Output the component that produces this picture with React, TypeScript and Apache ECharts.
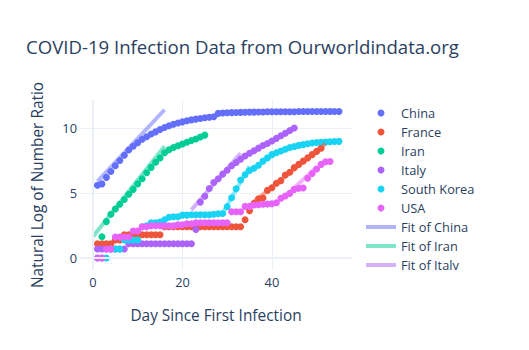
import { useEffect, useRef } from "react";
import * as echarts from "echarts";

// ---------- data ----------
const chinaStart = 1;
const chinaValues = [
  5.6, 5.7, 6.2, 6.65, 7.1, 7.5, 7.9, 8.3, 8.6, 8.87,
  9.13, 9.33, 9.54, 9.7, 9.88, 10.03, 10.17, 10.28, 10.38, 10.47,
  10.55, 10.62, 10.68, 10.73, 10.78, 10.82, 10.86, 11.12, 11.15, 11.17,
  11.18, 11.19, 11.2, 11.21, 11.22, 11.22, 11.23, 11.23, 11.24, 11.24,
  11.24, 11.25, 11.25, 11.25, 11.25, 11.26, 11.26, 11.26, 11.26, 11.26,
  11.27, 11.27, 11.27, 11.27, 11.27,
];

const franceStart = 1;
const franceValues = [
  1.1, 1.1, 1.1, 1.1, 1.39, 1.39,
  1.79, 1.79, 1.79, 1.79, 1.79, 1.79, 1.79, 1.79, 1.79,
  2.4, 2.4, 2.4, 2.4, 2.4, 2.4, 2.4, 2.4, 2.4, 2.4, 2.4, 2.4, 2.4, 2.4, 2.4, 2.4, 2.4, 2.4,
  2.95, 3.64, 4.2, 4.55, 4.62, 5.2, 5.4, 5.75, 5.95, 6.38,
  6.6, 6.95, 7.2, 7.45, 7.7, 7.95, 8.2, 8.45,
];

const iranStart = 2;
const iranValues = [
  1.64, 2.8, 3.36, 3.77, 4.13, 4.5, 4.9, 5.28, 5.7, 6.1,
  6.56, 6.97, 7.36, 7.7, 8.1, 8.32, 8.5, 8.63, 8.77, 8.9,
  9.03, 9.15, 9.3, 9.45,
];

const italyStart = 1;
const italyValues = [
  0.69, 0.69, 0.69, 0.69, 0.69, 0.69, 0.69,
  1.1, 1.1, 1.1, 1.1, 1.1, 1.1, 1.1, 1.1, 1.1, 1.1, 1.1, 1.1, 1.1, 1.1, 1.1,
  2.2, 4.3, 4.75, 5.35, 5.8, 6.1, 6.45, 6.75, 7.1, 7.35,
  7.6, 7.85, 8.05, 8.25, 8.45, 8.65, 8.8, 9.0, 9.2, 9.4,
  9.6, 9.8, 10.0,
];

const koreaStart = 1;
const koreaValues = [
  0, 0, 0, 0.69, 0.69, 0.69, 1.39, 1.39, 1.39, 1.39,
  2.4, 2.48, 2.71, 2.71, 2.77, 2.94, 3.14, 3.18, 3.18, 3.3,
  3.3, 3.33, 3.33, 3.33, 3.33, 3.33, 3.37, 3.4, 3.43,
  3.95, 4.64, 5.32, 6.0, 6.4, 6.73, 6.9, 7.14, 7.45, 7.7,
  7.95, 8.1, 8.23, 8.37, 8.5, 8.58, 8.66, 8.72, 8.78, 8.84,
  8.88, 8.9, 8.92, 8.94, 8.96, 8.97,
];

const usaStart = 1;
const usaValues = [
  0, 0, 0.69, 0.69, 1.61, 1.61, 1.61, 1.61, 2.08, 2.08,
  2.4, 2.4, 2.48, 2.48, 2.48, 2.48, 2.48, 2.48, 2.56, 2.56,
  2.64, 2.64, 2.71, 2.71, 2.71, 2.71, 2.71, 2.71, 2.71, 2.71,
  3.56, 3.56, 3.56,
  3.97, 3.97, 4.08, 4.09, 4.13, 4.15, 4.18, 4.25, 4.6, 4.77,
  4.97, 5.28, 5.36, 5.38, 6.13, 6.5, 6.85, 7.2, 7.4, 7.42,
];

// fitted lines: [start day, end day] and [start value, end value]
const fitChinaDays = [1, 16];
const fitChinaValues = [5.9, 11.4];
const fitIranDays = [0, 16];
const fitIranValues = [1.65, 8.6];
const fitItalyDays = [22, 33];
const fitItalyValues = [3.7, 8.05];
const fitKoreaDays = [29, 35];
const fitKoreaValues = [3.45, 7.05];
const fitFranceDays = [36, 52];
const fitFranceValues = [4.35, 8.8];
const fitUsaDays = [43, 50];
const fitUsaValues = [4.75, 7.0];

const countryNames = ["China", "France", "Iran", "Italy", "South Korea", "USA"];
const countryColors = ["#636efa", "#ef553b", "#00cc96", "#ab63fa", "#19d3f3", "#e763fa"];
const fitColors = [
  "rgba(99,110,250,0.5)",
  "rgba(0,204,150,0.5)",
  "rgba(171,99,250,0.5)",
  "rgba(25,211,243,0.5)",
  "rgba(239,85,59,0.5)",
  "rgba(231,99,250,0.5)",
];
const fitNames = ["Fit of China", "Fit of Iran", "Fit of Italy", "Fit of South Korea", "Fit of France", "Fit of USA"];

const FONT = '"Open Sans", verdana, arial, sans-serif';
const TEXT = "#2a3f5f";
const GRID = "#ebf0f8";

const toPoints = (start: number, values: number[]) => values.map((v, i) => [start + i, v]);
const toLine = (days: number[], values: number[]) => days.map((d, i) => [d, values[i]]);

export default function App() {
  const ref = useRef<HTMLDivElement>(null);

  useEffect(() => {
    document.body.style.margin = "0";
    if (!ref.current) return;
    const chart = echarts.init(ref.current, undefined, { renderer: "svg" });

    const countryData = [
      toPoints(chinaStart, chinaValues),
      toPoints(franceStart, franceValues),
      toPoints(iranStart, iranValues),
      toPoints(italyStart, italyValues),
      toPoints(koreaStart, koreaValues),
      toPoints(usaStart, usaValues),
    ];
    const fitData = [
      toLine(fitChinaDays, fitChinaValues),
      toLine(fitIranDays, fitIranValues),
      toLine(fitItalyDays, fitItalyValues),
      toLine(fitKoreaDays, fitKoreaValues),
      toLine(fitFranceDays, fitFranceValues),
      toLine(fitUsaDays, fitUsaValues),
    ];

    const scatterSeries = countryNames.map((name, i) => ({
      name,
      type: "scatter",
      data: countryData[i],
      symbol: "circle",
      symbolSize: 7,
      itemStyle: { color: countryColors[i], opacity: 1 },
      z: 2,
    }));
    const fitSeries = fitNames.map((name, i) => ({
      name,
      type: "line",
      data: fitData[i],
      symbol: "none",
      showSymbol: false,
      lineStyle: { color: fitColors[i], width: 4 },
      itemStyle: { color: fitColors[i] },
      z: 3,
    }));

    const lineIcon = "path://M0,0L30,0L30,4L0,4Z";

    chart.setOption({
      animation: false,
      backgroundColor: "#ffffff",
      textStyle: { fontFamily: FONT },
      title: {
        text: "COVID-19 Infection Data from Ourworldindata.org",
        left: 26,
        top: 35,
        padding: 0,
        textStyle: { fontSize: 18.6, fontWeight: "normal", color: TEXT, fontFamily: FONT, lineHeight: 22 },
      },
      grid: { left: 80, right: 177, top: 100, bottom: 80, containLabel: false },
      xAxis: {
        type: "value",
        min: -2.9,
        max: 57.9,
        splitNumber: 3,
        name: "Day Since First Infection",
        nameLocation: "middle",
        nameGap: 38,
        nameTextStyle: { fontSize: 15.4, color: TEXT, fontFamily: FONT },
        axisLine: { show: false },
        axisTick: { show: false },
        axisLabel: { color: TEXT, fontSize: 12.8, margin: 5, showMinLabel: false, showMaxLabel: false, fontFamily: FONT },
        splitLine: { show: true, showMinLine: false, showMaxLine: false, lineStyle: { color: GRID, width: 1 } },
      },
      yAxis: {
        type: "value",
        min: -0.92,
        max: 12.15,
        splitNumber: 3,
        name: "Natural Log of Number Ratio",
        nameLocation: "middle",
        nameGap: 35,
        nameTextStyle: { fontSize: 15.4, color: TEXT, fontFamily: FONT },
        axisLine: { show: false },
        axisTick: { show: false },
        axisLabel: { color: TEXT, fontSize: 12.8, margin: 3, showMinLabel: false, showMaxLabel: false, fontFamily: FONT },
        splitLine: { show: true, showMinLine: false, showMaxLine: false, lineStyle: { color: GRID, width: 1 } },
      },
      legend: {
        orient: "vertical",
        left: 366,
        top: 106,
        padding: 0,
        itemWidth: 30,
        itemHeight: 7,
        itemGap: 5,
        textStyle: { color: TEXT, fontSize: 12.8, lineHeight: 14, fontFamily: FONT },
        data: [
          ...countryNames.map((n) => ({ name: n, icon: "circle" })),
          { name: fitNames[0], icon: lineIcon },
          { name: fitNames[1], icon: lineIcon },
          { name: fitNames[2], icon: lineIcon },
        ],
      },
      graphic: [
        {
          type: "rect",
          shape: { x: 358, y: 270, width: 171, height: 16 },
          style: { fill: "#ffffff" },
          z: 100,
          silent: true,
        },
      ],
      series: [
        {
          name: "zero-lines",
          type: "line",
          data: [],
          z: 1,
          silent: true,
          markLine: {
            silent: true,
            symbol: "none",
            label: { show: false },
            lineStyle: { color: GRID, width: 2, type: "solid" },
            data: [{ xAxis: 0 }, { yAxis: 0 }],
          },
        },
        ...scatterSeries,
        ...fitSeries,
      ],
    });

    return () => chart.dispose();
  }, []);

  return <div ref={ref} style={{ width: 529, height: 350 }} />;
}
